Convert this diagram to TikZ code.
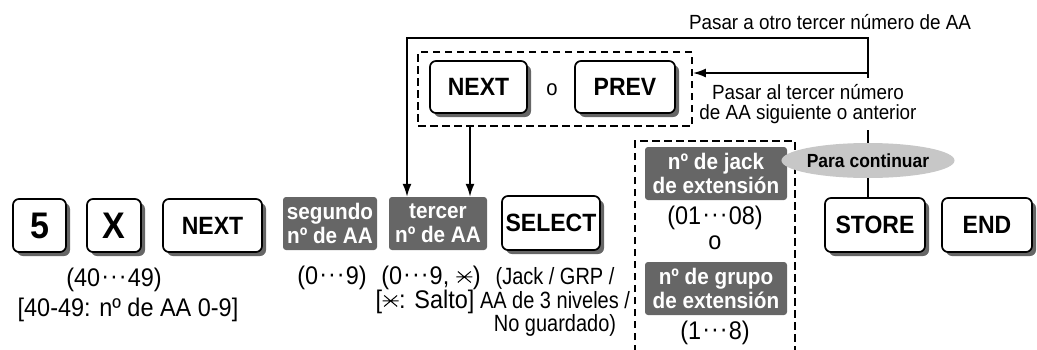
\documentclass[tikz,border=0pt]{standalone}
\usepackage{fontspec}
\setmainfont{Liberation Sans}
\newfontfamily\fA{Liberation Sans}[FakeStretch=0.92]
\newfontfamily\fB{Liberation Sans}[FakeStretch=0.85]
\usetikzlibrary{shadows,arrows.meta,shapes.geometric}
\newcommand{\cdts}{\kern.04em\raisebox{.08em}{·}\kern.04em\raisebox{.08em}{·}\kern.04em\raisebox{.08em}{·}\kern.04em}
\newcommand{\skey}{\tikz[baseline=-0.3em,x=1pt,y=1pt,line width=1pt]{\draw (-6.5,-5.5)--(6.5,5.5) (-6.5,5.5)--(6.5,-5.5) (-8,0)--(8,0);}}
\begin{document}
\begin{tikzpicture}[x=1pt,y=-1pt,
  keybox/.style={draw,line width=1.7pt,fill=white,rounded corners=6pt,inner sep=0pt,
    font=\fA\fontsize{25}{27}\selectfont\bfseries,
    drop shadow={shadow xshift=4pt,shadow yshift=-4pt,fill=black!60,opacity=1}},
  bigkey/.style={keybox,font=\fA\fontsize{37}{38}\selectfont\bfseries},
  graybox/.style={fill=black!60,rounded corners=3pt,inner sep=0pt,text=white,align=center,
    font=\fA\fontsize{22.5}{23.5}\selectfont\bfseries},
  lbl/.style={inner sep=0pt,font=\fA\fontsize{25.5}{27}\selectfont},
  note/.style={inner sep=0pt,align=center,font=\fA\fontsize{20.5}{20}\selectfont},
  conn/.style={line width=1.8pt},
  arr/.style={conn,-{Latex[length=13pt,width=9pt]}},
  dashbox/.style={draw,line width=1.8pt,dash pattern=on 7.5pt off 4.5pt}
]
\useasboundingbox (0,0) rectangle (1037,349);

% bottom row keys
\node[bigkey,minimum width=53,minimum height=53] (k5) at (39.5,225.5) {5};
\node[bigkey,minimum width=54,minimum height=53] (kx) at (114,225.5) {X};
\node[keybox,minimum width=99,minimum height=53] (knext) at (212.5,225.5) {NEXT};
\node[graybox,minimum width=94,minimum height=53] (seg) at (330,223.5) {segundo\\nº de AA};
\node[graybox,minimum width=98,minimum height=53] (terc) at (438,223.5) {tercer\\nº de AA};
\node[keybox,minimum width=98,minimum height=54] (sel) at (551,223) {SELECT};

% jack / grupo group
\draw[dashbox] (635,352) -- (635,141) -- (795,141) -- (795,352);
\node[graybox,minimum width=142,minimum height=53] (jack) at (716,173.5) {nº de jack\\de extensión};
\node[lbl] (jr) at (715,218) {(01\cdts08)};
\node[lbl] (jo) at (715,243) {o};
\node[graybox,minimum width=142,minimum height=53] (grp2) at (716,288.5) {nº de grupo\\de extensión};
\node[lbl] (gr) at (715,333) {(1\cdts8)};

% right keys
\node[ellipse,fill=black!22,minimum width=133,minimum height=35,inner sep=0pt,
  font=\fA\fontsize{19}{20}\selectfont\bfseries] (ell) at (868,160.5) {Para continuar};
\node[keybox,minimum width=100,minimum height=54] (store) at (875,225) {STORE};
\node[keybox,minimum width=90,minimum height=54] (kend) at (987,225) {END};

% NEXT/PREV group
\node[dashbox,minimum width=274,minimum height=74,inner sep=0pt] (np) at (555,89) {};
\node[keybox,minimum width=97,minimum height=52] (n2) at (478.5,87) {NEXT};
\node[note,font=\fA\fontsize{22}{22}\selectfont] (o2) at (552,90) {o};
\node[keybox,minimum width=100,minimum height=52] (prev) at (625,87) {PREV};

% connectors
\coordinate (tl) at (407,38);
\coordinate (tr) at (868,38);
\coordinate (br) at (868,73);
\coordinate (ax) at (470,0);
\draw[arr] (ell.north) -- (tr) -- (tl) -- (tl |- terc.north);
\draw[arr] (br) -- (br -| np.east);
\draw[arr] (np.south -| ax) -- (terc.north -| ax);
\draw[conn] (ell.south) -- (ell.south |- store.north);

% annotations
\node[note] (t1) at (830,22) {Pasar a otro tercer número de AA};
\node[note,fill=white,inner xsep=2pt,minimum height=52] (t2) at (808,104) {Pasar al tercer número\\de AA siguiente o anterior};

% labels
\node[lbl] (l1) at (114,280) {(40\cdts49)};
\node[lbl] (l2) at (128,310) {[40-49: nº de AA 0-9]};
\node[lbl] (l3) at (332,278) {(0\cdts9)};
\node[lbl] (l4) at (431,278) {(0\cdts9, \skey)};
\node[lbl] (l5) at (425,302) {[\skey: Salto]};
\node[lbl,align=center,font=\fB\fontsize{23.5}{23.5}\selectfont] (l6) at (555,302) {(Jack / GRP /\\AA de 3 niveles /\\No guardado)};
\end{tikzpicture}
\end{document}
